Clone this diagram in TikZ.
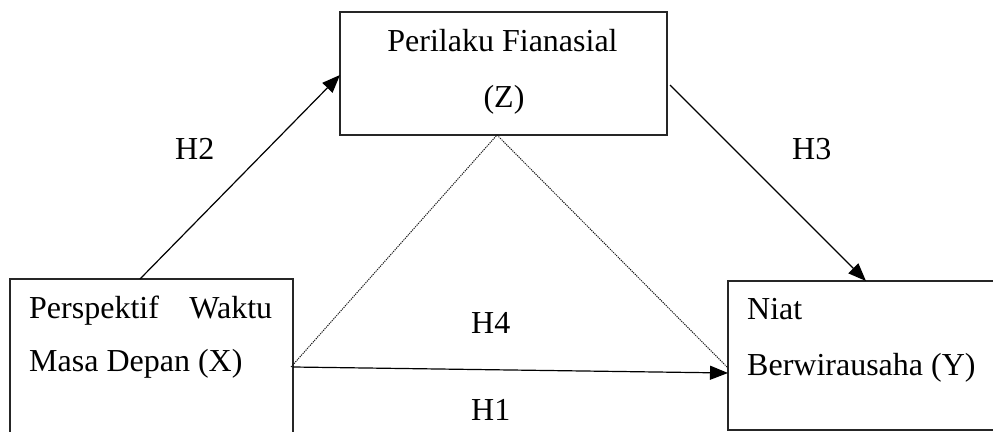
\documentclass[tikz,border=0pt]{standalone}
\usepackage{fontspec}
\setmainfont{Liberation Serif}
\usetikzlibrary{arrows.meta}
\begin{document}
\begin{tikzpicture}[x=1pt,y=1pt,
  box/.style={draw=black!85, line width=1.3pt, rectangle, inner sep=0pt},
  lbl/.style={inner sep=0pt, font=\fontsize{32}{38}\selectfont},
  arr/.style={line width=1.2pt, -{Triangle[length=18pt,width=14pt]}},
  dotline/.style={line width=1pt, black!90, dash pattern=on 1.2pt off 1pt}]
\useasboundingbox (0,0) rectangle (993,431);
\clip (0,0) rectangle (993,431);
% boxes
\node[box, minimum width=327pt, minimum height=123pt] (Z) at (503.5,357.5) {};
\node[box, minimum width=283pt, minimum height=181pt] (X) at (151.5,61.5) {};
\node[box, minimum width=304pt, minimum height=149pt] (Y) at (880,75.5) {};
% texts
\node[lbl, anchor=base] (z1) at (502.5,379) {Perilaku Fianasial};
\node[lbl, anchor=base] (z2) at (504,323) {(Z)};
\node[lbl, anchor=base west] (x1) at (29,112) {\makebox[243pt][s]{Perspektif\hfill Waktu}};
\node[lbl, anchor=base west] (x2) at (29,59) {Masa Depan (X)};
\node[lbl, anchor=base west] (y1) at (747,111) {Niat};
\node[lbl, anchor=base west] (y2) at (747,55) {Berwirausaha (Y)};
% connector end points
\coordinate (xtop) at (140,152);
\coordinate (zleft) at (340,356);
\coordinate (zright) at (670,346);
\coordinate (ytop) at (866,150);
\coordinate (xright) at (293,64);
\coordinate (yleft) at (728,58);
\coordinate (xdot) at (291,64);
\coordinate (zbot) at (497,296);
\coordinate (ydot) at (728,63);
% connectors
\draw[arr] (xtop) -- (zleft);
\draw[arr] (zright) -- (ytop);
\draw[arr] (xright) -- (yleft);
\draw[dotline] (xdot) -- (zbot) -- (ydot);
% labels
\node[lbl, anchor=base west] (h2) at (175,271) {H2};
\node[lbl, anchor=base west] (h3) at (792,271) {H3};
\node[lbl, anchor=base west] (h4) at (471,97) {H4};
\node[lbl, anchor=base west] (h1) at (471,10) {H1};
\end{tikzpicture}
\end{document}
